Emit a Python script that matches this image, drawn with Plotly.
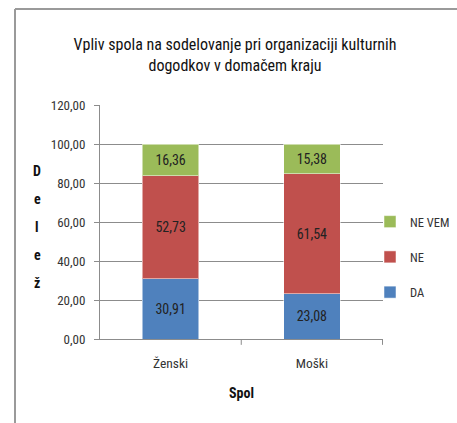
import plotly.graph_objects as go

categories = ["Ženski", "Moški"]
da = [30.91, 23.08]
ne = [52.73, 61.54]
ne_vem = [16.36, 15.38]
series_names = ["DA", "NE", "NE VEM"]
legend_ranks = [3, 2, 1]
colors = ["#4F81BD", "#C0504D", "#9BBB59"]
title_text = "Vpliv spola na sodelovanje pri organizaciji kulturnih<br>dogodkov v domačem kraju"
y_title = "Delež"
x_title = "Spol"

FONT = "Liberation Sans Narrow, Arial Narrow, Roboto Condensed, sans-serif"

fig = go.Figure()
for name, vals, col, rk in zip(series_names, [da, ne, ne_vem], colors, legend_ranks):
    fig.add_trace(go.Bar(
        x=categories, y=vals, name=name, legendgroup=name, legendrank=rk,
        marker=dict(color=col, line=dict(color="rgba(255,255,255,0.5)", width=1)),
        text=vals, texttemplate="%{y:.2f}", textposition="inside",
        insidetextanchor="middle",
        textfont=dict(family=FONT, size=14, color="#222"),
        width=0.4,
    ))

L, R, T, B = 100, 74, 105, 84
W, H = 457, 423
pw, ph = W - L - R, H - T - B

fig.update_layout(
    width=W, height=H,
    barmode="stack",
    separators=",.",
    paper_bgcolor="white", plot_bgcolor="white",
    margin=dict(l=L, r=R, t=T, b=B, autoexpand=False),
    font=dict(family=FONT, size=13, color="#333"),
    title=dict(text=title_text, x=235 / W, xanchor="center",
               y=1 - 50 / H, yanchor="middle",
               font=dict(family=FONT, size=16, color="#111")),
    showlegend=True,
    legend=dict(traceorder="grouped", x=(455 - L) / pw, xanchor="right",
                y=(H - B - 257) / ph, yanchor="middle",
                font=dict(family=FONT, size=12.5, color="#333"),
                itemwidth=30, tracegroupgap=16,
                bgcolor="rgba(0,0,0,0)"),
    bargap=0.6,
)
fig.update_yaxes(range=[0, 120], dtick=20, tickformat=".2f",
                 showgrid=True, gridcolor="#8c8c8c", gridwidth=1,
                 showline=True, linecolor="#8c8c8c", ticks="outside", ticklen=5,
                 tickcolor="#8c8c8c", tickfont=dict(family=FONT, size=13, color="#333"),
                 ticklabelstandoff=6, zeroline=False)
fig.update_xaxes(showline=True, linecolor="#8c8c8c", ticks="",
                 ticklabelstandoff=12,
                 tickfont=dict(family=FONT, size=13.5, color="#333"))

# category divider tick marks
for xv in (0.5, 1.5):
    fig.add_shape(type="line", xref="x", yref="paper", x0=xv, x1=xv, y0=0, y1=-0.025,
                  line=dict(color="#8c8c8c", width=1))

# y-axis title as stacked letters
for i, ch in enumerate(y_title):
    fig.add_annotation(text="<b>" + ch + "</b>", xref="paper", yref="paper",
                       x=(37 - L) / pw, y=(H - B - (171 + 28 * i)) / ph, showarrow=False,
                       xanchor="center", yanchor="middle",
                       font=dict(family=FONT, size=14, color="#111"))
fig.add_annotation(text="<b>" + x_title + "</b>", xref="paper", yref="paper",
                   x=0.5, y=-(393 - (H - B)) / ph, showarrow=False,
                   xanchor="center", yanchor="middle",
                   font=dict(family=FONT, size=14, color="#111"))

# outer chart frame (left and top only visible)
fig.add_shape(type="line", xref="paper", yref="paper",
              x0=(15 - L) / pw, x1=(15 - L) / pw, y0=(H - B - 9) / ph, y1=-(B + 10) / ph,
              line=dict(color="#9a9a9a", width=2))
fig.add_shape(type="line", xref="paper", yref="paper",
              x0=(15 - L) / pw, x1=(W + 10 - L) / pw, y0=(H - B - 9) / ph, y1=(H - B - 9) / ph,
              line=dict(color="#9a9a9a", width=2))

fig.write_html("out.html", config={"displayModeBar": False},
               post_script="document.body.style.margin='0';document.body.style.padding='0';document.body.style.overflow='hidden';")
